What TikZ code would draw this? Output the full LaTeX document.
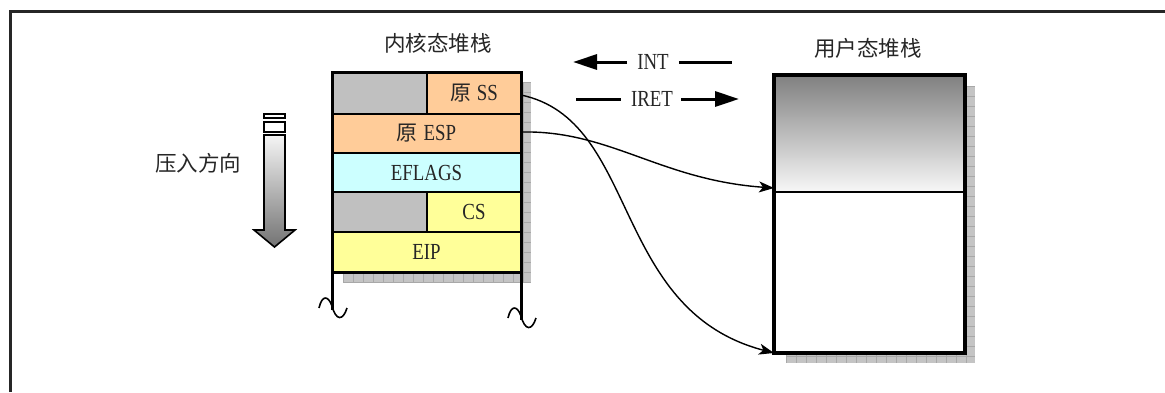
\documentclass[tikz,border=0pt]{standalone}
\usepackage{fontspec}
\setmainfont{Liberation Serif}
\newfontfamily\cjk{Noto Sans CJK SC}
\newfontfamily\lat[FakeStretch=0.82]{Liberation Serif}
\usetikzlibrary{arrows.meta}
\definecolor{korange}{HTML}{FFCC99}
\definecolor{kcyan}{HTML}{CCFFFF}
\definecolor{kyellow}{HTML}{FFFF99}
\definecolor{kgray}{HTML}{C0C0C0}
\definecolor{shadowc}{HTML}{C4C4C4}
\definecolor{gridc}{HTML}{A8A8A8}
\definecolor{txt}{HTML}{262626}
\tikzset{
  cell/.style={draw=black, line width=1.8pt, inner sep=0pt, outer sep=0pt, anchor=north west, text=txt, font=\fontsize{23}{25}\selectfont},
  title/.style={inner sep=0pt, text=txt, font=\fontsize{21.5}{23}\selectfont\cjk},
  lbl/.style={inner sep=0pt, text=txt, font=\fontsize{23}{25}\selectfont\lat},
  bigarrow/.style={line width=3pt, -{Triangle[length=24pt,width=15pt]}},
  bigline/.style={line width=3pt},
  link/.style={line width=1.4pt, -{Stealth[length=15pt,width=11pt,inset=4pt]}},
  frameline/.style={line width=3pt, draw=black!85},
  squig/.style={line width=1.6pt},
}
\begin{document}
\begin{tikzpicture}[x=1pt,y=-1pt]
\useasboundingbox (0,0) rectangle (1165,392);
% outer frame (partial)
\draw[frameline] (10,392) -- (10,11) -- (1165,11);

% ---------- shadows ----------
\begin{scope}
  \clip (343,82) rectangle (531,283);
  \fill[shadowc] (343,82) rectangle (531,283);
  \foreach \i in {0,...,19} \draw[gridc, line width=0.5pt] (343+\i*10,82) -- (343+\i*10,283);
  \foreach \j in {0,...,20} \draw[gridc, line width=0.5pt] (343,82+\j*10) -- (531,82+\j*10);
\end{scope}
\begin{scope}
  \clip (786,86) rectangle (975,363);
  \fill[shadowc] (786,86) rectangle (975,363);
  \foreach \i in {0,...,19} \draw[gridc, line width=0.5pt] (786+\i*10,86) -- (786+\i*10,363);
  \foreach \j in {0,...,28} \draw[gridc, line width=0.5pt] (786,86+\j*10) -- (975,86+\j*10);
\end{scope}

% ---------- kernel stack ----------
\node[title] (ktitle) at (438,43) {内核态堆栈};
\node[cell, fill=kgray, minimum width=95pt, minimum height=42pt] (sspad) at (332,72) {};
\node[cell, fill=korange, minimum width=94pt, minimum height=42pt] (ss) at (427,72) {{\cjk\fontsize{21}{23}\selectfont 原} {\lat SS}};
\node[cell, fill=korange, minimum width=189pt, minimum height=39pt] (esp) at (332,114) {{\cjk\fontsize{21}{23}\selectfont 原} {\lat ESP}};
\node[cell, fill=kcyan, minimum width=189pt, minimum height=39pt] (eflags) at (332,153) {\lat EFLAGS};
\node[cell, fill=kgray, minimum width=95pt, minimum height=40pt] (cspad) at (332,192) {};
\node[cell, fill=kyellow, minimum width=94pt, minimum height=40pt] (cs) at (427,192) {\lat CS};
\node[cell, fill=kyellow, minimum width=189pt, minimum height=40pt] (eip) at (332,232) {\lat EIP};
\draw[line width=3pt] (332,310) -- (332,72) -- (521,72) -- (521,320);
\draw[line width=3pt] (eip.south west) -- (eip.south east);
% broken-off ends
\draw[squig] (319,308) .. controls (322,295) and (328,295) .. (332,306) .. controls (336,321) and (343,321) .. (347,308);
\draw[squig] (508,318) .. controls (511,305) and (517,305) .. (521,316) .. controls (525,331) and (532,331) .. (536,318);

% ---------- push direction ----------
\node[title] (push) at (198,163) {压入方向};
\draw[line width=1.6pt, fill=white] (264,114) rectangle (285,118);
\draw[line width=1.6pt, fill=white] (264,122) rectangle (285,132);
\shade[top color=white!96!black, bottom color=black!55, draw=black, line width=1.6pt]
  (264,135) -- (285,135) -- (285,230) -- (295,230) -- (274.5,247) -- (254,230) -- (264,230) -- cycle;

% ---------- user stack ----------
\node[title] (utitle) at (868,48) {用户态堆栈};
\node[draw=black, line width=2pt, inner sep=0pt, outer sep=0pt, anchor=north west,
      minimum width=191pt, minimum height=117pt, top color=black!50, bottom color=white!97!black] (ustop) at (774,75) {};
\node[draw=black, line width=2pt, inner sep=0pt, outer sep=0pt, anchor=north west,
      minimum width=191pt, minimum height=161pt, fill=white] (usbot) at (774,192) {};
\draw[line width=3.5pt] (774,353) -- (774,75) -- (965,75) -- (965,353) -- cycle;

% ---------- INT / IRET ----------
\node[lbl] (int) at (653,62) {INT};
\node[lbl] (iret) at (652,99) {IRET};
\coordinate (intL) at (573,62);
\coordinate (intR) at (732,62);
\coordinate (iretL) at (576,99);
\coordinate (iretR) at (739,99);
\draw[bigarrow] ([xshift=-10pt]int.west) -- (intL);
\draw[bigline] ([xshift=10pt]int.east) -- (intR);
\draw[bigline] ([xshift=-10pt]iret.west) -- (iretL);
\draw[bigarrow] ([xshift=8pt]iret.east) -- (iretR);

% ---------- links ----------
\draw[link] ([yshift=-2pt]ss.east) .. controls (640,120) and (610,310) .. (usbot.south west);
\draw[link] ([yshift=-18pt]esp.north east) .. controls (610,130) and (660,180) .. ([yshift=4pt]ustop.south west);
\end{tikzpicture}
\end{document}
